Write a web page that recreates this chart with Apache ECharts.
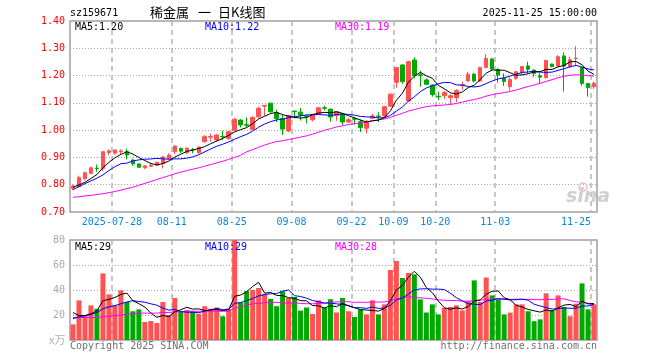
<!DOCTYPE html>
<html><head><meta charset="utf-8">
<script src="https://cdn.jsdelivr.net/npm/echarts@6.0.0/dist/echarts.min.js"></script>
<style>html,body{margin:0;padding:0;background:#fff}#c{width:660px;height:360px}</style>
</head><body><div id="c"></div>
<script>
// ---- data ----
const dates = [
'07-17','07-18','07-21','07-22','07-23','07-24','07-25','07-28','07-29','07-30','07-31',
'08-01','08-04','08-05','08-06','08-07','08-08','08-11','08-12','08-13','08-14','08-15','08-18','08-19','08-20','08-21','08-22','08-25','08-26','08-27','08-28','08-29',
'09-01','09-02','09-03','09-04','09-05','09-08','09-09','09-10','09-11','09-12','09-15','09-16','09-17','09-18','09-19','09-22','09-23','09-24','09-25','09-26','09-29','09-30',
'10-09','10-10','10-13','10-14','10-15','10-16','10-17','10-20','10-21','10-22','10-23','10-24','10-27','10-28','10-29','10-30','10-31',
'11-03','11-04','11-05','11-06','11-07','11-10','11-11','11-12','11-13','11-14','11-17','11-18','11-19','11-20','11-21','11-24','11-25'];
const tickDates  = ['07-28','08-11','08-25','09-08','09-22','10-09','10-20','11-03','11-25'];
const tickLabels = ['2025-07-28','08-11','08-25','09-08','09-22','10-09','10-20','11-03','11-25'];

const opens = [0.787,0.793,0.823,0.842,0.861,0.860,0.918,0.916,0.921,0.921,
 0.890,0.876,0.862,0.868,0.872,0.878,0.896,0.921,0.933,0.918,
 0.929,0.918,0.958,0.974,0.964,0.977,0.970,1.000,1.037,1.020,
 1.003,1.049,1.088,1.099,1.064,1.043,0.997,1.070,1.066,1.052,
 1.038,1.059,1.082,1.077,1.054,1.060,1.030,1.042,1.031,1.007,
 1.044,1.052,1.052,1.088,1.175,1.239,1.107,1.257,1.203,1.184,
 1.165,1.124,1.126,1.119,1.119,1.165,1.180,1.205,1.180,1.230,
 1.261,1.223,1.190,1.159,1.190,1.212,1.235,1.220,1.199,1.192,
 1.242,1.235,1.272,1.233,1.262,1.230,1.171,1.159];
const closes = [0.795,0.826,0.844,0.862,0.859,0.921,0.924,0.927,0.924,0.909,
 0.876,0.864,0.869,0.871,0.882,0.902,0.909,0.942,0.923,0.934,
 0.927,0.938,0.976,0.977,0.982,0.975,0.994,1.040,1.019,1.018,
 1.047,1.080,1.091,1.067,1.042,1.004,1.053,1.068,1.055,1.050,
 1.058,1.082,1.080,1.048,1.068,1.030,1.038,1.040,1.010,1.032,
 1.052,1.050,1.086,1.132,1.229,1.178,1.251,1.200,1.200,1.168,
 1.131,1.122,1.138,1.126,1.145,1.167,1.205,1.180,1.230,1.263,
 1.224,1.202,1.178,1.186,1.214,1.233,1.223,1.208,1.194,1.255,
 1.233,1.269,1.235,1.258,1.264,1.171,1.156,1.172];
const lows = [0.780,0.790,0.817,0.838,0.848,0.850,0.908,0.910,0.912,0.893,
 0.870,0.862,0.858,0.865,0.868,0.860,0.893,0.912,0.916,0.912,
 0.915,0.912,0.954,0.958,0.958,0.964,0.964,0.998,1.010,1.010,
 1.000,1.043,1.052,1.065,1.030,0.982,0.992,1.043,1.035,1.025,
 1.032,1.056,1.072,1.031,1.034,1.018,1.026,1.020,0.993,0.988,
 1.043,1.030,1.048,1.085,1.155,1.170,1.105,1.190,1.159,1.165,
 1.123,1.110,1.114,1.096,1.102,1.149,1.178,1.175,1.176,1.226,
 1.218,1.174,1.162,1.145,1.184,1.205,1.208,1.196,1.172,1.190,
 1.230,1.233,1.141,1.229,1.235,1.163,1.123,1.150];
const highs = [0.801,0.833,0.848,0.866,0.874,0.923,0.930,0.930,0.930,0.932,
 0.896,0.878,0.872,0.880,0.884,0.905,0.915,0.942,0.936,0.936,
 0.935,0.940,0.982,0.988,0.985,0.998,0.998,1.045,1.040,1.047,
 1.050,1.086,1.092,1.100,1.075,1.058,1.056,1.071,1.081,1.058,
 1.059,1.084,1.089,1.078,1.070,1.063,1.045,1.049,1.039,1.037,
 1.060,1.066,1.088,1.134,1.232,1.240,1.255,1.267,1.217,1.190,
 1.168,1.141,1.143,1.131,1.150,1.178,1.214,1.210,1.232,1.279,
 1.265,1.227,1.208,1.193,1.217,1.235,1.251,1.223,1.208,1.258,
 1.244,1.275,1.285,1.269,1.308,1.233,1.171,1.178];
const volumes = [12.5,31.7,19.7,27.7,25,53.3,36.5,27.7,39.7,30.4,
 23,24.5,14.4,15.2,13.6,30.4,20,33.6,23,24,
 23,21,27,25,26,19,25,80,30,39,
 40,41.6,37,32.8,27,39,33.6,34.4,23.5,26,
 20.8,31.7,26,32.6,22,33.6,23,18.4,24.5,20.5,
 31.7,20.5,28.5,56,63.2,49.6,53.6,52.5,32.5,22,
 28.5,20.5,25.6,26.4,27.7,23.7,31,47.7,30.4,50,
 35.7,32.5,20.5,21.9,28.5,28.5,23,15,16.5,37.3,
 23.7,35.7,26.4,19,29,45.3,24.5,28.5];
// moving-average values before enough history exists in the window
const priceMa5Head  = [0.791,0.799,0.809,0.823];
const priceMa10Head = [0.782,0.793,0.804,0.814,0.824,0.836,0.852,0.866,0.877];
const priceMa30Head = [0.754,0.756,0.759,0.761,0.764,0.767,0.771,0.775,0.780,0.786,
 0.791,0.798,0.805,0.812,0.819,0.826,0.833,0.840,0.846,0.852,
 0.857,0.862,0.868,0.874,0.880,0.886,0.893,0.900,0.908];
const volMa5Head  = [22,19.5,19.5,21];
const volMa10Head = [17,18.5,19.5,20.5,22,25,26.5,27.5,29];
const volMa30Head = [18,18,18,18,18,18.5,19,19.5,20,20.5,21,21.5,21.5,21.5,21.5,22,22,22.5,22.5,23,
 23,23,23,23,23,23,23,25.5,26.5];
const priceLegend = ['MA5:1.20','MA10:1.22','MA30:1.19'];
const volLegend   = ['MA5:29','MA10:29','MA30:28'];

// ---- build ----
function movingAvg(arr, n, head){
  return arr.map((v,i)=>{
    if(i < n-1) return head[i];
    let s=0; for(let k=i-n+1;k<=i;k++) s+=arr[k];
    return +(s/n).toFixed(4);
  });
}
const RED='#ff5252', GREEN='#00a800';
const MONO = "'DejaVu Sans Mono', monospace";
const kData = opens.map((o,i)=>[o, closes[i], lows[i], highs[i]]);
const volData = volumes.map((v,i)=>({value:v, itemStyle:{color: closes[i]>=opens[i]?RED:GREEN}}));
const isTick = (i)=> tickDates.indexOf(dates[i])>=0;

const dashV = {show:true, interval:(i)=>isTick(i), lineStyle:{color:'#b4b4b4', type:[5,4], width:1.5}};
const dotH = {show:true, showMinLine:false, showMaxLine:false, lineStyle:{color:'#a8a8a8', type:[1,2], width:1}};

const chart = echarts.init(document.getElementById('c'), null, {renderer:'canvas', width:660, height:360});
const lineS = (name, data, color, xi, yi) => ({type:'line', name, data, xAxisIndex:xi, yAxisIndex:yi, symbol:'none',
  lineStyle:{color, width:1}, z:5, silent:true});
function txt(text, x, y, fill, font, align){
  return {type:'text', x, y, z:100, style:{text, fill, font, align: align||'left', verticalAlign:'middle'}};
}
chart.setOption({
  animation:false,
  backgroundColor:'#ffffff',
  grid:[
    {left:70, top:21, width:527, height:191, show:true, borderColor:'#a0a0a0', borderWidth:1.5},
    {left:70, top:240, width:527, height:100, show:true, borderColor:'#a0a0a0', borderWidth:1.5}
  ],
  xAxis:[
    {type:'category', gridIndex:0, data:dates, boundaryGap:true,
      axisLine:{show:false}, axisTick:{show:false},
      axisLabel:{interval:(i)=>isTick(i), margin:5,
        formatter:(v)=>{const k=tickDates.indexOf(v); return (k===tickDates.length-1?'{r|':'{c|')+tickLabels[k]+'}';},
        rich:{c:{padding:[0,6,0,0], color:'#0a88dd', fontFamily:MONO, fontSize:10},
              r:{padding:[0,36,0,0], color:'#0a88dd', fontFamily:MONO, fontSize:10}}},
      splitLine:dashV},
    {type:'category', gridIndex:1, data:dates, boundaryGap:true,
      axisLine:{show:false}, axisTick:{show:false}, axisLabel:{show:false}, splitLine:dashV}
  ],
  yAxis:[
    {type:'value', gridIndex:0, min:0.7, max:1.4, interval:0.1, axisLine:{show:false}, axisTick:{show:false},
      axisLabel:{color:'#ff0000', fontFamily:MONO, fontSize:10, margin:5, formatter:(v)=>v.toFixed(2)},
      splitLine:dotH},
    {type:'value', gridIndex:1, min:0, max:80, interval:20, axisLine:{show:false}, axisTick:{show:false},
      axisLabel:{color:'#a8a8a8', fontFamily:MONO, fontSize:10, margin:5, formatter:(v)=>v===0?'':String(v)},
      splitLine:dotH}
  ],
  series:[
    {type:'candlestick', data:kData, xAxisIndex:0, yAxisIndex:0, barWidth:4, z:3,
      itemStyle:{color:RED, color0:GREEN, borderColor:RED, borderColor0:GREEN, borderWidth:1}},
    lineS('ma30', movingAvg(closes,30,priceMa30Head), '#ff00ff',0,0),
    lineS('ma10', movingAvg(closes,10,priceMa10Head), '#0000ff',0,0),
    lineS('ma5',  movingAvg(closes,5,priceMa5Head),  '#000000',0,0),
    {type:'bar', data:volData, xAxisIndex:1, yAxisIndex:1, barWidth:5, z:3},
    lineS('vma30', movingAvg(volumes,30,volMa30Head), '#ff00ff',1,1),
    lineS('vma10', movingAvg(volumes,10,volMa10Head), '#0000ff',1,1),
    lineS('vma5',  movingAvg(volumes,5,volMa5Head),  '#000000',1,1)
  ],
  graphic:[
    txt('sz159671', 70, 13, '#000', '10px '+MONO),
    txt('稀金属', 150, 12, '#000', '13px "Noto Sans CJK SC"'),
    txt('一', 198, 12, '#000', '13px "Noto Sans CJK SC"'),
    txt('日K线图', 218, 12, '#000', '13px "Noto Sans CJK SC"'),
    txt('2025-11-25 15:00:00', 597, 13, '#000', '10px '+MONO, 'right'),
    txt(priceLegend[0], 75, 27, '#000000', '10px '+MONO),
    txt(priceLegend[1], 205, 27, '#0000ff', '10px '+MONO),
    txt(priceLegend[2], 335, 27, '#ff00ff', '10px '+MONO),
    txt(volLegend[0], 75, 247, '#000000', '10px '+MONO),
    txt(volLegend[1], 205, 247, '#0000ff', '10px '+MONO),
    txt(volLegend[2], 335, 247, '#ff00ff', '10px '+MONO),
    txt('x万', 49, 340, '#b0b0b0', '11px "Noto Sans CJK SC"'),
    txt('Copyright 2025 SINA.COM', 70, 346, '#707070', '10px '+MONO),
    txt('http://finance.sina.com.cn', 597, 346, '#707070', '10px '+MONO, 'right'),
    {type:'circle', shape:{cx:583, cy:187, r:4}, style:{fill:'none', stroke:'#f2b8b8', lineWidth:1.5}, z:1},
    txt('sina', 566, 197, '#cfcfcf', 'italic bold 19px "DejaVu Sans"')
  ]
});
</script></body></html>
